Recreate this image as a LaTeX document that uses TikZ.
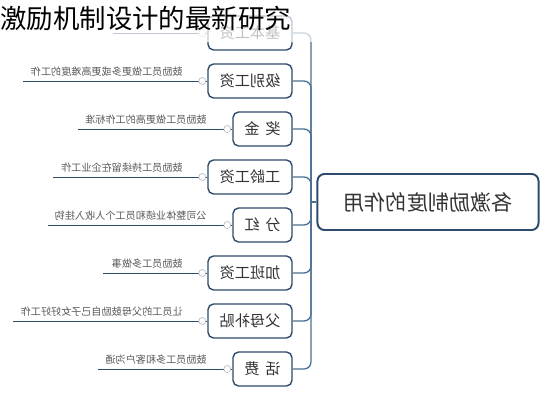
\documentclass[tikz,border=0pt]{standalone}
\usepackage{fontspec}
\setmainfont{Noto Sans CJK SC}
\usetikzlibrary{positioning}
\definecolor{boxline}{HTML}{2E4C6D}
\definecolor{linkline}{HTML}{4B6E93}
\definecolor{desctext}{HTML}{5A5A5A}
\tikzset{
    hubbox/.style={draw=boxline, line width=1.4pt, rounded corners=5pt, fill=white, minimum width=5.525cm, minimum height=1.4cm, font=\fontsize{15pt}{16pt}\selectfont, text=black!80},
    itembox/.style={draw=boxline, line width=1pt, rounded corners=4pt, fill=white, minimum height=0.85cm, font=\fontsize{10.8pt}{11pt}\selectfont, text=black!80},
    widebox/.style={itembox, minimum width=2.1cm},
    shortbox/.style={itembox, minimum width=1.475cm},
    link/.style={draw=linkline, line width=0.9pt, rounded corners=5pt},
    descline/.style={draw=boxline, line width=0.7pt},
    desc/.style={font=\fontsize{7.2pt}{8pt}\selectfont, text=desctext, anchor=south east, inner sep=0pt},
    knob/.style={circle, draw=gray!60, fill=white, inner sep=0pt, minimum size=5pt}
}
\begin{document}
\begin{tikzpicture}[x=0.025cm, y=-0.025cm]
        \useasboundingbox[fill=white] (0,0) rectangle (552,400);
        \node[hubbox] (hub) at (428,202) {\reflectbox{各激励制度的作用}};
        \coordinate (spine) at (311,202);
        \node[widebox] (jiben) at (250,33) {\reflectbox{基本工资}};
        \node[widebox] (jibie) at (250,81) {\reflectbox{级别工资}};
        \node[shortbox] (jiangjin) at (262.5,129) {\reflectbox{奖\hspace{4pt}金}};
        \node[widebox] (gongling) at (250,177) {\reflectbox{工龄工资}};
        \node[shortbox] (fenhong) at (262.5,225) {\reflectbox{分\hspace{4pt}红}};
        \node[widebox] (jiaban) at (250,273) {\reflectbox{加班工资}};
        \node[widebox] (fumu) at (250,321) {\reflectbox{父母补贴}};
        \node[shortbox] (huafei) at (262.5,369) {\reflectbox{话\hspace{4pt}费}};
        \draw[link] (hub.west) -- (spine);
        \draw[link] (spine) |- (jiben.east);
        \draw[link] (spine) |- (jibie.east);
        \draw[link] (spine) |- (jiangjin.east);
        \draw[link] (spine) |- (gongling.east);
        \draw[link] (spine) |- (fenhong.east);
        \draw[link] (spine) |- (jiaban.east);
        \draw[link] (spine) |- (fumu.east);
        \draw[link] (spine) |- (huafei.east);
        \coordinate (e1) at (113,33);
        \coordinate (e2) at (23,81);
        \coordinate (e3) at (78,129);
        \coordinate (e4) at (53,177);
        \coordinate (e5) at (48,225);
        \coordinate (e6) at (103,273);
        \coordinate (e7) at (13,321);
        \coordinate (e8) at (98,369);
        \draw[descline] (jiben.west) -- (e1);
        \draw[descline] (jibie.west) -- (e2);
        \draw[descline] (jiangjin.west) -- (e3);
        \draw[descline] (gongling.west) -- (e4);
        \draw[descline] (fenhong.west) -- (e5);
        \draw[descline] (jiaban.west) -- (e6);
        \draw[descline] (fumu.west) -- (e7);
        \draw[descline] (huafei.west) -- (e8);
        \node[knob] (k1) at ([shift={(-5,0)}]jiben.west) {};
        \node[knob] (k2) at ([shift={(-5,0)}]jibie.west) {};
        \node[knob] (k3) at ([shift={(-5,0)}]jiangjin.west) {};
        \node[knob] (k4) at ([shift={(-5,0)}]gongling.west) {};
        \node[knob] (k5) at ([shift={(-5,0)}]fenhong.west) {};
        \node[knob] (k6) at ([shift={(-5,0)}]jiaban.west) {};
        \node[knob] (k7) at ([shift={(-5,0)}]fumu.west) {};
        \node[knob] (k8) at ([shift={(-5,0)}]huafei.west) {};
        \node[desc] (d2) at (183,77) {\reflectbox{鼓励员工做更多或更高难度的工作}};
        \node[desc] (d3) at (207,125) {\reflectbox{鼓励员工做更高的工作标准}};
        \node[desc] (d4) at (183,173) {\reflectbox{鼓励员工持续留在企业工作}};
        \node[desc] (d5) at (207,221) {\reflectbox{公司整体业绩和员工个人收入挂钩}};
        \node[desc] (d6) at (183,269) {\reflectbox{鼓励员工多做事}};
        \node[desc] (d7) at (183,317) {\reflectbox{让员工的父母鼓励自己子女好好工作}};
        \node[desc] (d8) at (207,365) {\reflectbox{鼓励员工多和客户沟通}};
        \fill[white, opacity=0.7] (0,0) rectangle (335,42);
        \node[anchor=north west, inner sep=0pt, font=\fontsize{18.8pt}{20pt}\selectfont] (title) at (0,6) {激励机制设计的最新研究};
\end{tikzpicture}
\end{document}
